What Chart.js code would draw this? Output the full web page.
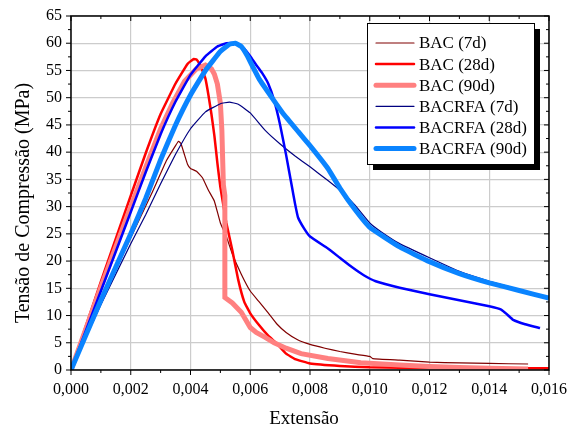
<!DOCTYPE html>
<html>
<head>
<meta charset="utf-8">
<script src="https://cdn.jsdelivr.net/npm/chart.js@4"></script>
<style>
  html, body { margin: 0; padding: 0; background: #fff; }
  #wrap { width: 569px; height: 432px; }
</style>
</head>
<body>
<div id="wrap"><canvas id="stressChart"></canvas></div>
<script>
// tick values
const xMajor = [0, 0.002, 0.004, 0.006, 0.008, 0.010, 0.012, 0.014, 0.016];
const yMajor = [0, 5, 10, 15, 20, 25, 30, 35, 40, 45, 50, 55, 60, 65];

const seriesNames = ['BAC (7d)', 'BAC (28d)', 'BAC (90d)', 'BACRFA (7d)', 'BACRFA (28d)', 'BACRFA (90d)'];

// [extensão, tensão MPa]
const bac7 = [[0,0],[0.001,12.4],[0.002,24.3],[0.0027,32.4],[0.0032,38.5],[0.0035,41.2],[0.0036,42],[0.00368,41.6],[0.0038,39.5],[0.0039,37.8],[0.004,37],[0.0042,36.5],[0.0044,35.3],[0.0046,33],[0.0048,31],[0.005,27],[0.0052,24.5],[0.0054,21.3],[0.0057,17.6],[0.006,14.5],[0.0063,12.5],[0.0066,10.5],[0.0069,8.4],[0.0072,6.9],[0.0076,5.5],[0.008,4.7],[0.0085,4.0],[0.009,3.4],[0.0095,2.9],[0.01,2.5],[0.0101,2.1],[0.011,1.8],[0.012,1.45],[0.013,1.3],[0.014,1.2],[0.0153,1.1]];
const bac28 = [[0,0],[0.001,16.2],[0.002,32],[0.0025,39.8],[0.003,47],[0.0035,52.6],[0.0039,56.2],[0.0041,57.1],[0.0042,57],[0.0043,56.2],[0.0044,55],[0.0045,53.5],[0.0046,50.5],[0.0047,47],[0.0048,43],[0.0049,38],[0.005,33.6],[0.0052,27],[0.0054,22],[0.0056,16.5],[0.0058,12.5],[0.006,10.4],[0.0063,8.2],[0.0066,6.3],[0.0069,4.8],[0.0072,3.0],[0.0075,2.0],[0.008,1.2],[0.009,0.75],[0.01,0.5],[0.012,0.35],[0.014,0.3],[0.016,0.3]];
const bac90 = [[0,0],[0.001,15.2],[0.002,30],[0.0025,37.2],[0.003,44.3],[0.0034,49],[0.0038,53],[0.0042,55.3],[0.0045,56],[0.0047,55.3],[0.0048,54.3],[0.0049,52.5],[0.005,49],[0.00505,44],[0.00508,38],[0.0051,34],[0.00515,32],[0.00515,13.3],[0.0054,12.3],[0.0057,10.6],[0.006,7.8],[0.0062,6.9],[0.0065,6.0],[0.0068,5.0],[0.0072,4.0],[0.0077,3.0],[0.0086,2.1],[0.0097,1.35],[0.011,0.9],[0.012,0.65],[0.013,0.45],[0.014,0.3],[0.0153,0.2]];
const bacrfa7 = [[0,0],[0.001,12],[0.002,23.2],[0.0025,28.5],[0.003,34.2],[0.0035,39.6],[0.004,44.3],[0.0045,47.4],[0.005,48.9],[0.0053,49.2],[0.0056,48.8],[0.006,47.2],[0.0065,44],[0.007,41.5],[0.0075,39.3],[0.008,37.3],[0.0086,34.8],[0.009,33],[0.0095,30.3],[0.01,27],[0.0104,25.3],[0.011,23.2],[0.012,20.6],[0.013,18.1],[0.014,16.3],[0.015,14.8],[0.016,13.3]];
const bacrfa28 = [[0,0],[0.001,14.5],[0.002,29],[0.0025,36.3],[0.003,43.3],[0.0035,49.3],[0.004,54.2],[0.0045,57.6],[0.0049,59.4],[0.0052,60],[0.0055,60],[0.0058,59],[0.006,57.6],[0.0062,56],[0.0064,54.5],[0.0066,52.6],[0.0068,49.5],[0.007,45],[0.0072,39.5],[0.0074,33.5],[0.0075,30.5],[0.0076,28],[0.0078,26],[0.008,24.5],[0.0086,22.3],[0.009,20.6],[0.0094,18.9],[0.0098,17.4],[0.0102,16.3],[0.011,15.1],[0.012,13.9],[0.013,12.8],[0.014,11.7],[0.0144,11.1],[0.0146,10.2],[0.0148,9.2],[0.0152,8.4],[0.0157,7.7]];
const bacrfa90 = [[0,0],[0.001,12.8],[0.002,25],[0.0025,31.5],[0.003,38.6],[0.0035,45],[0.004,50.5],[0.0045,55],[0.005,58.5],[0.0053,59.8],[0.0055,60],[0.0057,59.4],[0.0059,57.7],[0.0061,55.5],[0.0063,53.4],[0.0067,50.2],[0.0071,47.1],[0.0076,43.8],[0.008,41.2],[0.0086,37],[0.009,33.4],[0.0095,29.5],[0.01,26.2],[0.011,22.6],[0.012,19.9],[0.013,17.7],[0.014,16],[0.015,14.6],[0.016,13.2]];

const allSeries = [bac7, bac28, bac90, bacrfa7, bacrfa28, bacrfa90];
const colors = ['#800000', '#ff0000', '#ff8080', '#000080', '#0000ff', '#0a84ff'];
const widths = [1.2, 2.5, 5, 1.2, 2.5, 5];

const serif = '"Liberation Serif", "Times New Roman", serif';

// frame, minor ticks, axis titles and the boxed legend
const framePlugin = {
  id: 'frame',
  afterDraw(chart) {
    const { ctx, chartArea: a, scales: { x, y } } = chart;
    ctx.save();
    ctx.strokeStyle = '#000';
    ctx.lineWidth = 1;
    const seg = (x1, y1, x2, y2) => { ctx.beginPath(); ctx.moveTo(x1, y1); ctx.lineTo(x2, y2); ctx.stroke(); };

    xMajor.forEach((v, i) => {
      const px = x.getPixelForValue(v);
      seg(px, a.bottom, px, a.bottom + 5);
      seg(px, a.top, px, a.top + 5);
      if (i < xMajor.length - 1) {
        const pm = x.getPixelForValue((v + xMajor[i + 1]) / 2);
        seg(pm, a.bottom, pm, a.bottom + 3);
        seg(pm, a.top, pm, a.top + 3);
      }
    });
    yMajor.forEach((v, i) => {
      const py = y.getPixelForValue(v);
      seg(a.left - 5, py, a.left, py);
      seg(a.right - 5, py, a.right, py);
      if (i < yMajor.length - 1) {
        const pm = y.getPixelForValue((v + yMajor[i + 1]) / 2);
        seg(a.left - 3, pm, a.left, pm);
        seg(a.right - 3, pm, a.right, pm);
      }
    });
    ctx.lineWidth = 1.5;
    ctx.strokeRect(a.left, a.top, a.right - a.left, a.bottom - a.top);

    // axis titles
    ctx.fillStyle = '#000';
    ctx.textAlign = 'center';
    ctx.textBaseline = 'middle';
    ctx.font = '19px ' + serif;
    ctx.fillText('Extensão', 304, 419);
    ctx.save();
    ctx.translate(24, 203);
    ctx.rotate(-Math.PI / 2);
    ctx.font = '20px ' + serif;
    ctx.fillText('Tensão de Compressão (MPa)', 0, 0);
    ctx.restore();

    // legend
    const bx = 367, by = 23, bw = 167, bh = 141;
    ctx.fillStyle = '#000';
    ctx.fillRect(bx + 6, by + 6, bw, bh);
    ctx.fillStyle = '#fff';
    ctx.fillRect(bx, by, bw, bh);
    ctx.lineWidth = 1;
    ctx.strokeRect(bx + 0.5, by + 0.5, bw, bh);
    ctx.textAlign = 'left';
    ctx.font = '17px ' + serif;
    chart.data.datasets.forEach((ds, i) => {
      const ry = 43 + i * 21.1;
      ctx.strokeStyle = ds.borderColor;
      ctx.lineWidth = ds.borderWidth;
      ctx.lineCap = 'round';
      seg(376, ry, 414, ry);
      ctx.fillStyle = '#000';
      ctx.fillText(ds.label, 419, ry + 1);
    });
    ctx.restore();
  }
};

const ctx = document.getElementById('stressChart').getContext('2d');

const stressChart = new Chart(ctx, {
  type: 'scatter',
  data: {
    datasets: allSeries.map((s, i) => ({
      label: seriesNames[i],
      data: s.map(p => ({ x: p[0], y: p[1] })),
      showLine: true,
      borderColor: colors[i],
      backgroundColor: colors[i],
      borderWidth: widths[i],
      pointRadius: 0,
      tension: i === 2 ? 0 : 0.1,
      order: allSeries.length - i
    }))
  },
  options: {
    responsive: true,
    maintainAspectRatio: false,
    animation: false,
    events: [],
    layout: { padding: { top: 16, right: 20, left: 0, bottom: 0 } },
    plugins: { legend: { display: false }, tooltip: { enabled: false } },
    scales: {
      x: {
        type: 'linear',
        min: 0,
        max: 0.016,
        afterBuildTicks: s => { s.ticks = xMajor.map(v => ({ value: v })); },
        afterFit: s => { s.height = 62; s.paddingLeft = 0; s.paddingRight = 0; },
        ticks: {
          padding: 10,
          color: '#000',
          font: { family: serif, size: 16 },
          callback: v => v.toFixed(3).replace('.', ',')
        },
        grid: { color: '#cccccc', lineWidth: 1.2, drawTicks: false },
        border: { display: false }
      },
      y: {
        min: 0,
        max: 65,
        afterBuildTicks: s => { s.ticks = yMajor.map(v => ({ value: v })); },
        afterFit: s => { s.width = 71; s.paddingTop = 0; s.paddingBottom = 0; },
        ticks: {
          padding: 9,
          color: '#000',
          font: { family: serif, size: 16 }
        },
        grid: { color: '#cccccc', lineWidth: 1.2, drawTicks: false },
        border: { display: false }
      }
    }
  },
  plugins: [framePlugin]
});
</script>
</body>
</html>
